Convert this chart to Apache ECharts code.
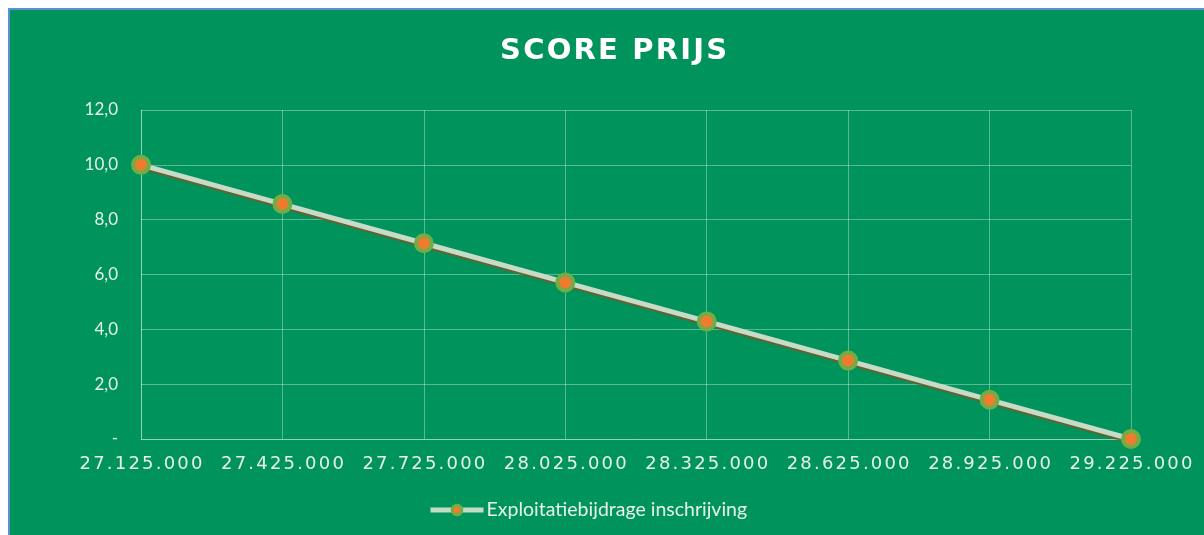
<!DOCTYPE html>
<html>
    <head>
        <title>echarts</title>
        <meta http-equiv="content-type" content="text/html; charset=utf-8">
        <style type="text/css">
            html,
            body {
                height: 100%;
                width: 100%;
                background: #ffffff;
                margin: 0;
                overflow: hidden;
            }
            #panel {
                position: absolute;
                left: 8px;
                top: 8px;
                right: 0;
                bottom: 0;
                background: #00935c;
                border-left: 2px solid #5b8fd6;
                border-top: 2px solid #5b8fd6;
            }
            #echarts {
                position: absolute;
                left: 0;
                top: 0;
                width: 1204px;
                height: 535px;
            }
        </style>
    </head>

    <body>
        <div id="panel"></div>
        <div id="echarts"></div>
        <script src="https://cdn.jsdelivr.net/npm/echarts@6/dist/echarts.min.js"></script>
        <script>
            // prijs (inschrijving) per stap en de bijbehorende score
            let categories = ['27.125.000', '27.425.000', '27.725.000', '28.025.000',
                '28.325.000', '28.625.000', '28.925.000', '29.225.000'];
            let scores = [10.0, 8.57, 7.14, 5.71, 4.29, 2.86, 1.43, 0.0];
            let seriesName = 'Exploitatiebijdrage inschrijving';

            let myChart = echarts.init(document.getElementById('echarts'));
            let txt = '#e6f3ea';
            let grid = 'rgba(255,255,255,0.35)';

            // letterspacing nabootsen: elk teken als los rich-text stukje met padding
            function spaced(str) {
                return str.split('').map(function(c) {
                    return '{c|' + c + '}';
                }).join('');
            }

            let option = {
                title: {
                    text: spaced('SCORE PRIJS'),
                    left: 494,
                    top: 32,
                    textStyle: {
                        rich: {
                            c: {
                                color: '#ffffff',
                                fontFamily: 'DejaVu Sans',
                                fontWeight: 'bold',
                                fontSize: 29,
                                padding: [0, 1.1, 0, 1.1]
                            }
                        }
                    }
                },
                grid: {
                    left: 141,
                    right: 73,
                    top: 110,
                    bottom: 96,
                    outerBoundsMode: 'none'
                },
                legend: {
                    bottom: 10,
                    left: 423,
                    itemWidth: 53,
                    itemHeight: 12,
                    itemGap: 4,
                    lineStyle: {
                        width: 5,
                        color: '#c3dcc6'
                    },
                    itemStyle: {
                        color: '#f07b2e',
                        borderColor: '#70ad47',
                        borderWidth: 3
                    },
                    textStyle: {
                        color: txt,
                        fontFamily: 'Lato',
                        fontSize: 19.5,
                        padding: [0, 0, 0, -2]
                    },
                    data: [seriesName]
                },
                xAxis: {
                    type: 'category',
                    boundaryGap: false,
                    data: categories,
                    axisLine: {
                        lineStyle: { color: grid, width: 1 }
                    },
                    axisTick: { show: false },
                    splitLine: {
                        show: true,
                        lineStyle: { color: grid, width: 1 }
                    },
                    axisLabel: {
                        margin: 16,
                        interval: 0,
                        formatter: function(v) { return spaced(v); },
                        rich: {
                            c: {
                                color: txt,
                                fontFamily: 'DejaVu Sans',
                                fontSize: 18,
                                padding: [0, 1.1, 0, 1.1]
                            }
                        }
                    }
                },
                yAxis: {
                    type: 'value',
                    min: 0,
                    max: 12,
                    interval: 2,
                    axisLine: {
                        show: true,
                        lineStyle: { color: grid, width: 1 }
                    },
                    axisTick: { show: false },
                    splitLine: {
                        lineStyle: { color: grid, width: 1 }
                    },
                    axisLabel: {
                        color: txt,
                        fontFamily: 'Lato',
                        fontSize: 17,
                        margin: 23,
                        formatter: function(v) {
                            if (v === 0) return '-';
                            return v.toFixed(1).replace('.', ',');
                        }
                    }
                },
                series: [{
                    name: seriesName,
                    type: 'line',
                    data: scores,
                    symbol: 'circle',
                    symbolSize: 16,
                    z: 3,
                    lineStyle: {
                        color: '#c6dcc8',
                        width: 5,
                        shadowColor: 'rgba(120,90,40,0.9)',
                        shadowBlur: 1,
                        shadowOffsetY: 2
                    },
                    itemStyle: {
                        color: '#f07b2e',
                        borderColor: '#70ad47',
                        borderWidth: 4
                    },
                    emphasis: { disabled: true }
                }]
            };
            myChart.setOption(option);
        </script>
    </body>
</html>
